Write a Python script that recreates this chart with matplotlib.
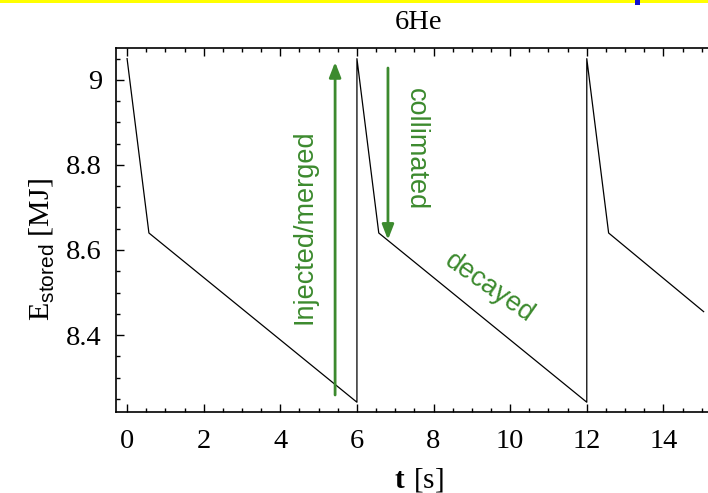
import matplotlib
matplotlib.use('Agg')
import matplotlib.pyplot as plt
from matplotlib.patches import Rectangle
from matplotlib.ticker import MultipleLocator

# stored energy over injection cycles
t_s = [0.0, 0.57, 6.0, 6.0, 6.57, 12.0, 12.0, 12.57, 15.05]
e_stored = [9.05, 8.64, 8.242, 9.05, 8.64, 8.242, 9.05, 8.64, 8.455]

x_ticks = [0, 2, 4, 6, 8, 10, 12, 14]
y_ticks = [8.4, 8.6, 8.8, 9.0]
y_tick_labels = ['8.4', '8.6', '8.8', '9']

green = '#3c8a2e'
serif = ['Liberation Serif', 'DejaVu Serif']

plt.rcParams['mathtext.fontset'] = 'custom'
plt.rcParams['mathtext.rm'] = 'Liberation Serif'
plt.rcParams['mathtext.bf'] = 'Liberation Serif:bold'
plt.rcParams['mathtext.sf'] = 'Liberation Sans'

fig = plt.figure(figsize=(7.08, 4.93), dpi=100)
ax = fig.add_axes([0.1638, 0.1643, 0.856, 0.7383])

ax.plot(t_s, e_stored, color='black', lw=0.9)

ax.set_xlim(-0.29, 15.53)
ax.set_ylim(8.219, 9.075)

ax.set_xticks(x_ticks)
ax.set_yticks(y_ticks)
ax.set_yticklabels(y_tick_labels)
ax.xaxis.set_minor_locator(MultipleLocator(0.5))
ax.yaxis.set_minor_locator(MultipleLocator(0.05))
ax.tick_params(which='both', direction='in', top=True, right=False, width=1.0)
ax.tick_params(which='major', length=6, labelsize=20.5)
ax.tick_params(axis='x', which='major', pad=12)
ax.tick_params(axis='y', which='major', pad=10)
ax.tick_params(which='minor', length=3)
for lab in ax.get_xticklabels() + ax.get_yticklabels():
    lab.set_family(serif)
for sp in ax.spines.values():
    sp.set_linewidth(1.2)
ax.spines['right'].set_visible(False)

ax.set_title('6He', family=serif, fontsize=20.5, pad=14)
ax.set_xlabel(r'$\mathbf{t}\ [\mathrm{s}]$', fontsize=21, labelpad=9)
ax.set_ylabel(r'E$_{\mathsf{stored}}$ [MJ]', family=serif, fontsize=21.5)
ax.yaxis.set_label_coords(-0.097, 0.445)

# annotations
arrow = dict(arrowstyle='-|>,head_width=0.35,head_length=0.9', color=green, lw=2.0,
             shrinkA=0, shrinkB=0)
ax.annotate('', xy=(5.43, 9.042), xytext=(5.43, 8.259), arrowprops=arrow)
ax.annotate('', xy=(6.81, 8.624), xytext=(6.81, 9.028), arrowprops=arrow)

ax.text(4.64, 8.654, 'Injected/merged', rotation=90, color=green, fontsize=19.5,
        family='Liberation Sans', ha='center', va='center')
ax.text(7.55, 8.838, 'collimated', rotation=-90, color=green, fontsize=19.5,
        family='Liberation Sans', ha='center', va='center')
ax.text(9.47, 8.51, 'decayed', rotation=-35, color=green, fontsize=19.5,
        family='Liberation Sans', ha='center', va='center')

# slide remnants at the top edge
fig.add_artist(Rectangle((0, 1 - 3 / 493), 1, 3 / 493, transform=fig.transFigure,
                         color='#ffff00', lw=0))
fig.add_artist(Rectangle((635 / 708, 1 - 5 / 493), 5 / 708, 5 / 493,
                         transform=fig.transFigure, color='#1010d0', lw=0))

fig.savefig('out.png', dpi=100)
